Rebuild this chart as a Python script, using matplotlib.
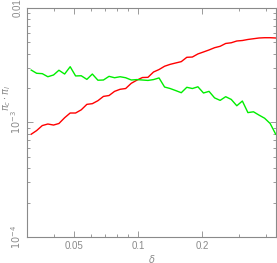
import matplotlib
matplotlib.use("Agg")
import matplotlib.pyplot as plt
from matplotlib.ticker import FixedLocator, NullFormatter

# delta grid (log spaced)
delta = [0.0314, 0.0333, 0.0354, 0.0376, 0.0400, 0.0424, 0.0451, 0.0479, 0.0508,
         0.0540, 0.0574, 0.0609, 0.0647, 0.0687, 0.0730, 0.0775, 0.0823, 0.0874,
         0.0929, 0.0986, 0.1048, 0.1113, 0.1182, 0.1255, 0.1333, 0.1416, 0.1504,
         0.1597, 0.1696, 0.1801, 0.1913, 0.2032, 0.2158, 0.2292, 0.2434, 0.2585,
         0.2746, 0.2916, 0.3097, 0.3289, 0.3494, 0.3711, 0.3941, 0.4186, 0.4446]

pi_c = [7.9e-4, 8.5e-4, 9.4e-4, 9.7e-4, 9.5e-4, 9.8e-4, 1.10e-3, 1.21e-3, 1.21e-3,
        1.29e-3, 1.44e-3, 1.46e-3, 1.55e-3, 1.69e-3, 1.72e-3, 1.87e-3, 1.95e-3, 1.98e-3,
        2.20e-3, 2.34e-3, 2.47e-3, 2.48e-3, 2.76e-3, 2.90e-3, 3.10e-3, 3.22e-3, 3.31e-3,
        3.40e-3, 3.71e-3, 3.73e-3, 3.97e-3, 4.13e-3, 4.30e-3, 4.50e-3, 4.63e-3, 4.90e-3,
        4.97e-3, 5.15e-3, 5.20e-3, 5.31e-3, 5.39e-3, 5.47e-3, 5.50e-3, 5.50e-3, 5.47e-3]

pi_l = [2.87e-3, 2.69e-3, 2.67e-3, 2.51e-3, 2.60e-3, 2.86e-3, 2.65e-3, 3.07e-3, 2.55e-3,
        2.56e-3, 2.38e-3, 2.65e-3, 2.34e-3, 2.35e-3, 2.53e-3, 2.46e-3, 2.51e-3, 2.46e-3,
        2.35e-3, 2.37e-3, 2.35e-3, 2.33e-3, 2.37e-3, 2.45e-3, 2.04e-3, 1.98e-3, 1.90e-3,
        1.82e-3, 2.03e-3, 1.98e-3, 2.05e-3, 1.81e-3, 1.87e-3, 1.64e-3, 1.56e-3, 1.68e-3,
        1.59e-3, 1.40e-3, 1.54e-3, 1.22e-3, 1.24e-3, 1.16e-3, 1.09e-3, 9.8e-4, 7.9e-4]

xticks = [0.05, 0.1, 0.2]
xticklabels = ["0.05", "0.1", "0.2"]
yticks = [1e-4, 1e-3, 1e-2]
yticklabels = ["$10^{-4}$", "$10^{-3}$", "0.01"]

grey = "#8a8a8a"
plt.rcParams["font.family"] = ["Liberation Sans", "DejaVu Sans"]
plt.rcParams["mathtext.fontset"] = "dejavusans"

fig = plt.figure(figsize=(2.77, 2.63), dpi=100)
ax = fig.add_axes([0.0975, 0.0989, 0.8989, 0.8707])

ax.plot(delta, pi_c, color="#ff0000", lw=1)
ax.plot(delta, pi_l, color="#00ee00", lw=1)

ax.set_xscale("log")
ax.set_yscale("log")
ax.set_xlim(0.030, 0.446)
ax.set_ylim(1e-4, 1e-2)

ax.xaxis.set_major_locator(FixedLocator(xticks))
ax.set_xticklabels(xticklabels)
ax.xaxis.set_minor_locator(FixedLocator([0.03, 0.04, 0.06, 0.07, 0.08, 0.09, 0.3, 0.4]))
ax.xaxis.set_minor_formatter(NullFormatter())
ax.yaxis.set_major_locator(FixedLocator(yticks))
ax.set_yticklabels(yticklabels, rotation=90, va="center")
ax.yaxis.set_minor_locator(FixedLocator([k * 10.0**e for e in (-4, -3) for k in range(2, 10)]))
ax.yaxis.set_minor_formatter(NullFormatter())

for s in ax.spines.values():
    s.set_color(grey)
    s.set_linewidth(0.8)
ax.tick_params(which="both", direction="in", top=True, right=True, color=grey,
               labelcolor=grey, labelsize=7, width=0.6)
ax.tick_params(which="major", length=4, pad=3)
ax.tick_params(which="minor", length=2.5)

ax.set_xlabel(r"$\delta$", color=grey, fontsize=7, labelpad=1)
ax.set_ylabel(r"$\pi_c\cdot\pi_l$", color=grey, fontsize=7)
ax.yaxis.set_label_coords(-0.056, 0.61)

fig.savefig("out.png", dpi=100)
